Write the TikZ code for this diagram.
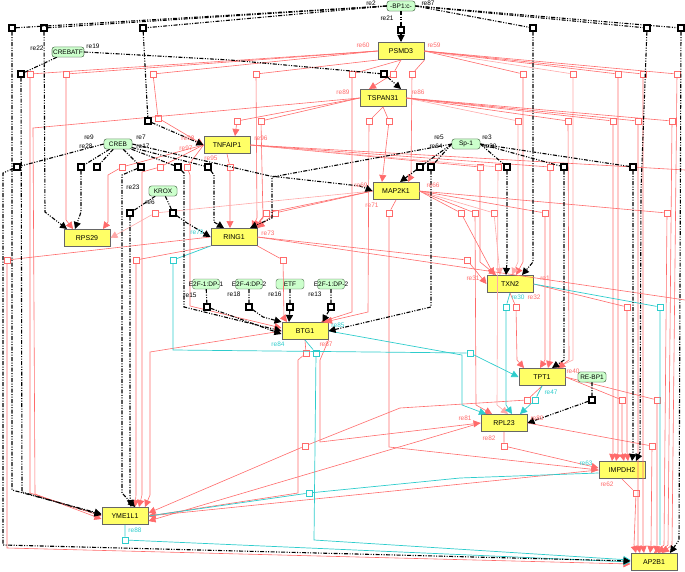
\documentclass[tikz,border=0pt]{standalone}
\usepackage{fontspec}
\setmainfont{Liberation Sans}
\usetikzlibrary{arrows.meta}
\definecolor{pk}{HTML}{FF6B6B}
\definecolor{lpk}{HTML}{FFA8A8}
\definecolor{cy}{HTML}{2ECCCC}
\definecolor{gnfill}{HTML}{FFFF66}
\definecolor{tffill}{HTML}{CCFFCC}
\definecolor{tfdraw}{HTML}{4D6B4D}
\tikzset{
 gene/.style={draw=black!60, line width=1pt, fill=gnfill, minimum width=46pt, minimum height=17pt, inner sep=0pt, font=\fontsize{7}{8}\selectfont},
 tf/.style={draw=tfdraw, rounded corners=2.5pt, fill=tffill, minimum width=28pt, minimum height=10pt, inner sep=1pt, font=\fontsize{6.5}{7}\selectfont},
 tfbox/.style={draw=tfdraw, rounded corners=2.5pt, fill=tffill, minimum width=27pt, minimum height=10pt, inner sep=0pt},
 tftxt/.style={inner sep=0pt, font=\fontsize{6.5}{7}\selectfont},
 bsq/.style={draw=black, line width=1.3pt, fill=white, minimum size=6pt, inner sep=0pt},
 psq/.style={draw=pk, line width=0.6pt, fill=white, minimum size=6pt, inner sep=0pt},
 csq/.style={draw=cy, line width=0.8pt, fill=white, minimum size=6pt, inner sep=0pt},
 tfl/.style={black, line width=1.1pt, dash pattern=on 4pt off 1.5pt on 1pt off 1.5pt on 1pt off 1.5pt},
 pl/.style={pk, line width=0.6pt},
 lpl/.style={lpk, line width=0.6pt},
 cl/.style={cy, line width=0.7pt},
 ta/.style={-{Triangle[length=7pt,width=7pt]}},
 lab/.style={inner sep=0pt, font=\fontsize{6.5}{7}\selectfont},
}
\begin{document}
\begin{tikzpicture}[x=1pt,y=-1pt]
\useasboundingbox (0,0) rectangle (685,572);
% ---------- gene nodes
\node[gene] (PSMD3) at (401,51) {PSMD3};
\node[gene] (TSPAN31) at (383,98) {TSPAN31};
\node[gene] (TNFAIP1) at (227,145) {TNFAIP1};
\node[gene] (MAP2K1) at (396,191) {MAP2K1};
\node[gene] (RPS29) at (87,238) {RPS29};
\node[gene] (RING1) at (234,237) {RING1};
\node[gene] (TXN2) at (510,284) {TXN2};
\node[gene] (BTG1) at (305,331) {BTG1};
\node[gene] (TPT1) at (542,377) {TPT1};
\node[gene] (RPL23) at (504,423) {RPL23};
\node[gene] (IMPDH2) at (622,470) {IMPDH2};
\node[gene] (AP2B1) at (654,562) {AP2B1};
\node[gene] (YME1L1) at (125,516) {YME1L1};
% ---------- TF nodes
\path (401,6) coordinate (BP1c) (68,52) coordinate (CREBATFc) (118,144) coordinate (CREBc)
 (163,191) coordinate (KROXc) (466,144) coordinate (SP1c) (592,377) coordinate (REBP1c);
\node[tf] (BP1) at (BP1c) {-BP1:c-};
\node[tf] (CREBATF) at (CREBATFc) {CREBATF};
\node[tf] (CREB) at (CREBc) {CREB};
\node[tf] (KROX) at (KROXc) {KROX};
\node[tf] (SP1) at (SP1c) {Sp-1};
\node[tf] (REBP1) at (REBP1c) {RE-BP1};
\node[tfbox] (E2Fa) at (206,284) {};
\node[tfbox] (E2Fb) at (249,284) {};
\node[tf] (ETF) at (290,284) {ETF};
\node[tfbox] (E2Fc) at (331,284) {};
% ---------- reaction squares (pink / cyan)
\foreach \n/\x/\y in {pP1/30/74,pP2/66/74,pP3/153/74,pP3b/158/118,pP4/256/74,pP5/352/74,pP6/393/74,pP7/412/74,
 pP8/523/74,pP9/573/74,pP10/618/74,pP11/643/74,pP12/677/74,
 pQ1/237/121,pQ2/261/121,pQ3/369/121,pQ4/389/121,pQ5/518/121,pQ6/568/121,pQ7/613/121,pQ8/638/121,pQ9/672/121,
 pR1/122/167,pR2/160/167,pR3/187/167,pR5/230/167,pR6/480/167,pR7/498/167,pR8/550/167,
 pM1/389/213,pM2/266/213,pM3/275/213,pM4/155/213,pM5/461/213,pM6/475/213,pM7/494/213,pM8/545/213,pM9/667/213,
 pG1/7/260,pG2/136/260,pG4/283/260,pG5/467/260,
 pX2/516/307,pX3/627/307,pB1/306/353,pT2/527/400,pT3/622/400,pT4/657/400,
 pL1/504/446,pL2/652/446,pI1/636/493,pB5/305/446}
 {\node[psq] (\n) at (\x,\y) {};}
\foreach \n/\x/\y in {cG3/173/260,cT/470/353,cX1/506/307,cX4/660/307,cB2/316/353,cT1/535/400,cY1/125/540,cB6/309/493}
 {\node[csq] (\n) at (\x,\y) {};}
% ---------- pink connectors
\draw[pl,ta] (PSMD3.west) -- (pP1) -- (30,493) -- (YME1L1.west);
\draw[pl,ta] (PSMD3.west) -- (pP2) -- (66,220) -- ([xshift=-14pt]RPS29.north);
\draw[pl,ta] (PSMD3.west) -- (pP3) -- (pP3b) -- (TNFAIP1.west);
\draw[pl,ta] (PSMD3.south west) -- (pP4) -- (257,218) -- ([xshift=18pt]RING1.north);
\draw[pl,ta] (PSMD3.south) -- (pP5) -- (352,312) -- ([xshift=16pt]BTG1.north);
\draw[pl,ta] (PSMD3.south) -- (pP6) -- ([xshift=-14pt]TSPAN31.north);
\draw[pl,ta] (PSMD3.south east) -- (pP7) -- (411,176) -- ([xshift=12pt]MAP2K1.north);
\draw[pl,ta] (PSMD3.east) -- (pP8) -- (523,262) -- ([xshift=6pt]TXN2.north);
\draw[lpl,ta] (PSMD3.east) -- (pP9) -- (573,360) -- ([xshift=14pt]TPT1.north);
\draw[pl,ta] (PSMD3.east) -- (pP10) -- (618,452) -- ([xshift=-6pt]IMPDH2.north);
\draw[pl,ta] (PSMD3.east) -- (pP11) -- (643,545) -- ([xshift=-10pt]AP2B1.north);
\draw[pl,ta] (PSMD3.east) -- (pP12) -- (672,545) -- ([xshift=8pt]AP2B1.north);
\draw[pl,ta] (TSPAN31.west) -- (pQ1) -- ([xshift=8pt]TNFAIP1.north);
\draw[pl,ta] (TSPAN31.west) -- (pQ2) -- (263,218) -- ([xshift=20pt]RING1.north);
\draw[pl,ta] (TSPAN31.south) -- (pQ3) -- (368,312) -- ([xshift=20pt]BTG1.north);
\draw[pl,ta] (TSPAN31.south) -- (pQ4) -- ([xshift=-14pt]MAP2K1.north);
\draw[lpl,ta] (TSPAN31.east) -- (pQ5) -- (518,262) -- ([xshift=2pt]TXN2.north);
\draw[pl,ta] (TSPAN31.east) -- (pQ6) -- (569,360) -- ([xshift=16pt]TPT1.north);
\draw[pl,ta] (TSPAN31.east) -- (pQ7) -- (613,452) -- ([xshift=-10pt]IMPDH2.north);
\draw[pl,ta] (TSPAN31.east) -- (pQ8) -- (638,545) -- ([xshift=-14pt]AP2B1.north);
\draw[pl,ta] (TSPAN31.east) -- (pQ9) -- (668,545) -- ([xshift=4pt]AP2B1.north);
\draw[pl,ta] (TSPAN31.west) -- (33,128) -- (35,494) -- ([yshift=-3pt]YME1L1.west);
\draw[pl,ta] (TNFAIP1.west) -- (pR1) -- (108,175) -- (108,222) -- ([xshift=16pt]RPS29.north);
\draw[pl,ta] (TNFAIP1.west) -- (pR2) -- (142,172) -- (142,495) -- ([xshift=14pt]YME1L1.north);
\draw[pl,ta] (TNFAIP1.west) -- (pR3) -- (190,175) -- (190,306) -- ([yshift=3pt]BTG1.west);
\draw[pl,ta] (TNFAIP1.south) -- (pR5) -- ([xshift=-4pt]RING1.north);
\draw[pl,ta] (TNFAIP1.east) -- (pR6) -- (480,262) -- ([xshift=-14pt]TXN2.north);
\draw[lpl,ta] (TNFAIP1.east) -- (pR7) -- (497,405) -- ([xshift=4pt]RPL23.north);
\draw[pl,ta] (TNFAIP1.east) -- (pR8) -- (550,360) -- ([xshift=6pt]TPT1.north);
\draw[pl] (TNFAIP1.east) -- (685,170);
\draw[pl,ta] (MAP2K1.south) -- (pM1) -- (389,447) -- (IMPDH2.west);
\draw[pl,ta] (MAP2K1.west) -- (pM2) -- ([xshift=20pt]RING1.north);
\draw[pl,ta] (MAP2K1.west) -- (pM3) -- (RING1.north east);
\draw[lpl,ta] (MAP2K1.west) -- (pM4) -- (RPS29.east);
\draw[pl,ta] (MAP2K1.east) -- (pM5) -- ([xshift=-16pt]TXN2.north);
\draw[pl,ta] (MAP2K1.east) -- (pM6) -- (476,405) -- ([xshift=-12pt]RPL23.north);
\draw[lpl,ta] (MAP2K1.east) -- (pM7) -- ([xshift=-10pt]TXN2.north);
\draw[pl,ta] (MAP2K1.east) -- (pM8) -- (545,360) -- ([xshift=-2pt]TPT1.north);
\draw[pl,ta] (MAP2K1.east) -- (pM9) -- (664,545) -- ([xshift=0pt]AP2B1.north);
\draw[pl,ta] (RING1.west) -- (pG1) -- (7,548) -- ([yshift=-2pt]AP2B1.west);
\draw[pl,ta] (RING1.south west) -- (pG2) -- (136,495) -- ([xshift=10pt]YME1L1.north);
\draw[pl,ta] (RING1.south east) -- (pG4) -- (284,318) -- ([xshift=-18pt]BTG1.north);
\draw[pl,ta] (RING1.east) -- (pG5) -- (TXN2.west);
\draw[pl] (RING1.east) -- (685,300);
\draw[pl,ta] (TXN2.south) -- (pX2) -- (517,360) -- ([xshift=-18pt]TPT1.north);
\draw[pl,ta] (TXN2.east) -- (pX3) -- (627,452) -- ([xshift=6pt]IMPDH2.north);
\draw[pl,ta] (BTG1.south) -- (pB1) -- (298,360) -- (298,493) -- (YME1L1.east);
\draw[pl,ta] (BTG1.south east) -- (320,360) -- (320,442) -- (RPL23.west);
\draw[pl,ta] (BTG1.west) -- (150,352) -- (150,495) -- ([xshift=20pt]YME1L1.north);
\draw[pl,ta] (TPT1.south) -- (pT2) -- (400,408) -- (pB5) -- ([yshift=3pt]YME1L1.east);
\draw[pl,ta] (TPT1.east) -- (pT3) -- (622,452) -- ([xshift=2pt]IMPDH2.north);
\draw[pl,ta] (TPT1.east) -- (pT4) -- (657,545) -- ([xshift=2pt]AP2B1.north);
\draw[pl,ta] (RPL23.south) -- (pL1) -- ([yshift=2pt]IMPDH2.west);
\draw[pl,ta] (RPL23.east) -- (pL2) -- (651,545) -- ([xshift=-4pt]AP2B1.north);
\draw[pl,ta] (RPL23.west) -- ([yshift=-5pt]YME1L1.east);
\draw[pl,ta] (IMPDH2.south) -- (pI1) -- (634,545) -- ([xshift=-18pt]AP2B1.north);
\draw[pl,ta] (IMPDH2.west) -- (YME1L1.east);
% ---------- cyan connectors
\draw[cl,ta] (RING1.south west) -- (cG3) -- (173,350) -- (cT) -- (TPT1.west);
\draw[cl,ta] (TXN2.south) -- (cX1) -- (506,405) -- ([xshift=8pt]RPL23.north);
\draw[cl] (TXN2.east) -- (cX4) -- (660,545);
\draw[cl,ta] (BTG1.south) -- (cB2) -- (314,540) -- ([yshift=2pt]AP2B1.west);
\draw[cl,ta] (BTG1.east) -- (462,355) -- (462,405) -- ([xshift=-18pt]RPL23.north);
\draw[cl,ta] (TPT1.south) -- (cT1) -- ([xshift=16pt]RPL23.north);
\draw[cl,ta] (YME1L1.south) -- (cY1) -- (AP2B1.west);
\draw[cl] (YME1L1.east) -- (cB6) -- (460,478) -- ([yshift=-3pt]IMPDH2.west);
% ---------- TF squares
\foreach \n/\x/\y in {b21/401/30,bA/12/28,bB/44/28,bC/143/28,bC2/148/121,bD/533/28,bE/647/28,bF/681/28,
 b22/21/74,b19/384/74,cA/17/167,cB/81/167,cC/97/167,cD/141/167,cE/178/167,cF/208/167,
 k23/130/213,k6/173/213,sA/420/167,sB/431/167,sC/507/167,sD/564/167,sE/633/167,
 e15/207/307,e18/249/307,e16/290/307,e13/331/307,r80/592/400}
 {\node[bsq] (\n) at (\x,\y) {};}
% ---------- black TF connectors
\draw[tfl,ta] (BP1) -- (b21) -- (PSMD3);
\draw[tfl,ta] (BP1.west) -- (bA) -- (12,490) -- ([yshift=2pt]YME1L1.west);
\draw[tfl,ta] (BP1.west) -- (bB) -- (45,212) -- ([xshift=-20pt]RPS29.north);
\draw[tfl,ta] (BP1.west) -- (bC) -- (bC2) -- (TNFAIP1.west);
\draw[tfl,ta] (BP1.east) -- (bD) -- (533,262) -- ([xshift=12pt]TXN2.north);
\draw[tfl,ta] (BP1.east) -- (bE) -- (641,190) -- (640,452) -- ([xshift=14pt]IMPDH2.north);
\draw[tfl,ta] (BP1.east) -- (bF) -- (679,540) -- ([xshift=16pt]AP2B1.north);
\draw[tfl,ta] (CREBATF) -- (b22) -- (22,492) -- ([yshift=1pt]YME1L1.west);
\draw[tfl,ta] (CREBATF.east) -- (230,60) -- (b19) -- ([xshift=18pt]TSPAN31.north);
\draw[tfl,ta] (CREB.west) -- (cA) -- (3,173) -- (3,545) -- ([yshift=1pt]AP2B1.west);
\draw[tfl,ta] (CREB) -- (cB) -- (81,212) -- ([xshift=-12pt]RPS29.north);
\draw[tfl] (CREB) -- (cC);
\draw[tfl,ta] (CREB) -- (cD) -- (122,175) -- (122,493) -- ([xshift=10pt]YME1L1.north);
\draw[tfl,ta] (CREB) -- (cE) -- (184,173) -- (184,307) -- (BTG1.west);
\draw[tfl,ta] (CREB) -- (cF) -- (214,175) -- (214,222) -- ([xshift=-10pt]RING1.north);
\draw[tfl,ta] (CREB.east) -- (270,176) -- (360,186) -- (MAP2K1.west);
\draw[tfl,ta] (KROX) -- (k23) -- (130,495) -- ([xshift=6pt]YME1L1.north);
\draw[tfl,ta] (KROX) -- (k6) -- (187,223) -- (RING1.west);
\draw[tfl,ta] (SP1.west) -- (272,177) -- (272,218) -- ([xshift=16pt]RING1.north);
\draw[tfl,ta] (SP1.west) -- (sA) -- ([xshift=4pt]MAP2K1.north);
\draw[tfl,ta] (SP1.west) -- (sB) -- (431,307) -- (BTG1.east);
\draw[tfl,ta] (SP1.east) -- (sC) -- (507,262) -- ([xshift=-4pt]TXN2.north);
\draw[tfl,ta] (SP1.east) -- (sD) -- (564,360) -- ([xshift=10pt]TPT1.north);
\draw[tfl,ta] (SP1.east) -- (sE) -- (633,452) -- ([xshift=10pt]IMPDH2.north);
\draw[tfl,ta] (E2Fa) -- (e15) -- ([yshift=-3pt]BTG1.west);
\draw[tfl,ta] (E2Fb) -- (e18) -- (263,317) -- (BTG1.north west);
\draw[tfl,ta] (ETF) -- (e16) -- ([xshift=-16pt]BTG1.north);
\draw[tfl,ta] (E2Fc) -- (e13) -- ([xshift=-6pt]BTG1.north east);
\draw[tfl,ta] (REBP1) -- (r80) -- (RPL23.east);
% ---------- redraw TF nodes on top
\node[tf] at (BP1c) {-BP1:c-};
\node[tf] at (CREBATFc) {CREBATF};
\node[tf] at (CREBc) {CREB};
\node[tf] at (KROXc) {KROX};
\node[tf] at (SP1c) {Sp-1};
\node[tf] at (REBP1c) {RE-BP1};
\node[tftxt] (E2FaT) at (206,284) {E2F-1:DP-1};
\node[tftxt] (E2FbT) at (249,284) {E2F-4:DP-2};
\node[tftxt] (E2FcT) at (331,284) {E2F-1:DP-2};
% ---------- labels
\node[lab] (l1) at (371,3) {re2};
\node[lab] (l2) at (428,3) {re87};
\node[lab] (l3) at (387,18) {re21};
\node[lab] (l4) at (37,48) {re22};
\node[lab] (l5) at (93,46) {re19};
\node[lab] (l6) at (86,146) {re28};
\node[lab] (l6b) at (89,137) {re9};
\node[lab] (l7) at (143,146) {re17};
\node[lab] (l7b) at (141,137) {re7};
\node[lab] (l8) at (133,187) {re23};
\node[lab] (l9) at (150,202) {re6};
\node[lab] (l10) at (436,146) {re64};
\node[lab] (l10b) at (439,137) {re5};
\node[lab] (l11) at (490,146) {re30};
\node[lab] (l11b) at (487,137) {re3};
\node[lab] (l12) at (190,295) {re15};
\node[lab] (l13) at (234,294) {re18};
\node[lab] (l14) at (275,294) {re16};
\node[lab] (l15) at (315,294) {re13};
\begin{scope}[every node/.append style={text=pk}]
\node[lab] (m1) at (363,45) {re60};
\node[lab] (m2) at (434,45) {re59};
\node[lab] (m3) at (343,92) {re89};
\node[lab] (m4) at (418,92) {re86};
\node[lab] (m5) at (188,138) {re98};
\node[lab] (m6) at (186,148) {re97};
\node[lab] (m7) at (211,158) {re95};
\node[lab] (m8) at (261,138) {re96};
\node[lab] (m9) at (361,185) {re69};
\node[lab] (m10) at (372,205) {re71};
\node[lab] (m11) at (433,185) {re66};
\node[lab] (m12) at (268,233) {re73};
\node[lab] (m13) at (473,278) {re31};
\node[lab] (m14) at (545,278) {re1};
\node[lab] (m15) at (534,297) {re32};
\node[lab] (m16) at (326,344) {re87};
\node[lab] (m17) at (573,371) {re40};
\node[lab] (m18) at (465,418) {re81};
\node[lab] (m19) at (489,438) {re82};
\node[lab] (m20) at (537,418) {re80};
\node[lab] (m21) at (607,484) {re62};
\end{scope}
\begin{scope}[every node/.append style={text=cy}]
\node[lab] (n1) at (197,232) {re79};
\node[lab] (n2) at (518,297) {re30};
\node[lab] (n3) at (278,344) {re84};
\node[lab] (n4) at (338,325) {re85};
\node[lab] (n5) at (551,392) {re47};
\node[lab] (n6) at (586,463) {re63};
\node[lab] (n7) at (135,530) {re88};
\end{scope}
\end{tikzpicture}
\end{document}
